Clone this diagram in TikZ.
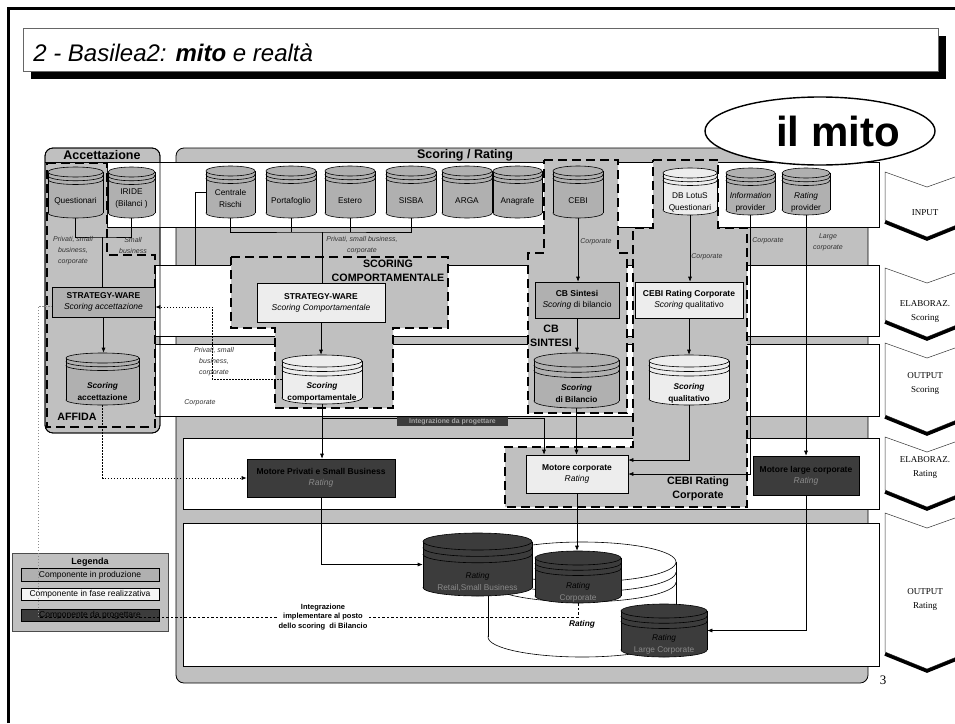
\documentclass[tikz,border=0pt]{standalone}
\usepackage{fontspec}
\setmainfont{Liberation Sans}
\newfontfamily\chevfont{Liberation Serif}
\usetikzlibrary{arrows.meta}
\usetikzlibrary{shapes.geometric}

\definecolor{panelgrey}{HTML}{C0C0C0}
\definecolor{prodgrey}{HTML}{B0B0B0}
\definecolor{newgrey}{HTML}{EDEDED}
\definecolor{todogrey}{HTML}{3C3C3C}
\definecolor{labgrey}{HTML}{333333}
\definecolor{ratgrey}{HTML}{8A8A8A}

% database cylinder: name, cx, top, half width, height, ry, fill, text y, text
\newcommand{\cylgap}{0.75}
\newcommand{\dbcyl}[9]{%
  \pgfmathsetmacro{\cylgapv}{\cylgap*#6}
  \filldraw[fill=#7] (#2,#3+#5-#6) ellipse ({#4} and {#6});
  \fill[#7] (#2-#4,#3+#6) rectangle (#2+#4,#3+#5-#6);
  \draw (#2-#4,#3+#6) -- (#2-#4,#3+#5-#6) (#2+#4,#3+#6) -- (#2+#4,#3+#5-#6);
  \filldraw[fill=#7] (#2,#3+#6) ellipse ({#4} and {#6});
  \foreach \k in {1,2} {
    \begin{scope}
      \clip (#2-#4-1,#3+#6+\k*\cylgapv) rectangle (#2+#4+1,#3+2*#6+\k*\cylgapv+1);
      \draw (#2,#3+#6+\k*\cylgapv) ellipse ({#4} and {#6});
    \end{scope}
  }
  \node[cylbox, minimum width={2*#4pt}, minimum height={#5pt}] (#1) at (#2,#3+#5/2) {};
  \node[cyltext] (#1-t) at (#2,#8) {#9};
}

% phase chevron on the right: name, top, bottom corner, text, text y
\newcommand{\phasechev}[5]{%
  \draw[fill=white, draw=black!80, line width=0.5pt] (885,#2) -- (927,#2+15) -- (969,#2) -- (969,#3) -- (927,#3+17) -- (885,#3) -- cycle;
  \draw[line width=3.5pt] (885,#3+2) -- (927,#3+19) -- (969,#3+2);
  \node[chevtext] (#1) at (925,#5) {#4};
}

\begin{document}
\begin{tikzpicture}[x=1pt,y=-1pt,line width=0.6pt,
    panelbox/.style={draw=black, fill=panelgrey, line width=0.8pt, rounded corners=8pt},
    bandrow/.style={draw=black, fill=white},
    grpzone/.style={draw=black, fill=panelgrey, line width=2pt, dash pattern=on 9pt off 5pt},
    cbox/.style={draw=black, inner sep=0pt, align=center, font=\fontsize{8.5}{11}\selectfont},
    cylbox/.style={inner sep=0pt, draw=none},
    cyltext/.style={inner sep=0pt, align=center, font=\fontsize{8.3}{12}\selectfont},
    labtxt/.style={inner sep=0pt, align=center, text=labgrey, font=\fontsize{7}{11}\selectfont\itshape},
    grouplab/.style={inner sep=0pt, align=center, font=\fontsize{10.7}{14}\selectfont\bfseries},
    lgrow/.style={draw=black, inner sep=0pt, minimum width=138, minimum height=12.5, font=\fontsize{8.5}{10}\selectfont},
    chevtext/.style={inner sep=0pt, align=center, font=\chevfont\fontsize{9}{14}\selectfont},
    arr/.style={-{Latex[length=5pt,width=4pt]}},
    dotarr/.style={-{Latex[length=5pt,width=4pt]}, line width=0.7pt, dash pattern=on 1.5pt off 1.5pt},
    intline/.style={line width=0.7pt, dash pattern=on 2.5pt off 2pt},
    greydot/.style={draw=black!45, line width=1pt, dash pattern=on 1.5pt off 1.5pt}]
  \useasboundingbox (0,0) rectangle (955,723);

  % frame and title
  \draw[line width=2.5pt] (8.5,723) -- (8.5,8.5) -- (955,8.5);
  \fill[black] (31,36) rectangle (946,79);
  \draw[fill=white, draw=black!60] (23,28) rectangle (938,71);
  \node[anchor=base west, inner sep=0pt, font=\fontsize{24}{28}\selectfont\itshape] (title) at (33,61) {2 - Basilea2: \textbf{mito} e realtà};

  % panels and phase bands
  \draw[panelbox] (45,148) rectangle (160,433);
  \draw[panelbox] (176,148) rectangle (868,683);
  \draw[bandrow] (107,162) rectangle (879,227);
  \draw[bandrow] (155,265) rectangle (879,336);
  \draw[bandrow] (155,344) rectangle (879,416);
  \draw[bandrow] (183,438) rectangle (879,509);
  \draw[bandrow] (183,523) rectangle (879,666);
  \draw[line width=0.8pt, rounded corners=8pt] (45,148) rectangle (160,433);
  \draw (45,162) -- (107,162);
  \node[grouplab, font=\fontsize{12.5}{14}\selectfont\bfseries] (acctit) at (102,155) {Accettazione};
  \node[grouplab, font=\fontsize{12.5}{14}\selectfont\bfseries] (scotit) at (465,155) {Scoring / Rating};

  % dashed groups
  \draw[grpzone] (47,163) -- (107,163) -- (107,255) -- (155,255) -- (155,427) -- (47,427) -- cycle;
  \draw[grpzone] (231,257) -- (448,257) -- (448,328) -- (393,328) -- (393,408) -- (275,408) -- (275,328) -- (231,328) -- cycle;
  \draw[grpzone] (544,160) -- (618,160) -- (618,253) -- (627,253) -- (627,413) -- (528,413) -- (528,253) -- (544,253) -- cycle;
  \draw[grpzone] (653,160) -- (718,160) -- (718,228) -- (747,228) -- (747,507) -- (505,507) -- (505,447) -- (633,447) -- (633,228) -- (653,228) -- cycle;

  % input sources
  \dbcyl{quest}{75.5}{167}{27.5}{51}{5}{prodgrey}{201}{Questionari}
  \dbcyl{iride}{131.5}{167}{23.5}{51}{5}{prodgrey}{199}{IRIDE\\(Bilanci )}
  \dbcyl{crischi}{230.5}{166}{24.5}{52}{5}{prodgrey}{199}{Centrale\\Rischi}
  \dbcyl{porta}{291}{166}{25}{52}{5}{prodgrey}{201}{Portafoglio}
  \dbcyl{estero}{350}{166}{25}{52}{5}{prodgrey}{201}{Estero}
  \dbcyl{sisba}{411}{166}{25}{52}{5}{prodgrey}{201}{SISBA}
  \dbcyl{arga}{467}{166}{25}{52}{5}{prodgrey}{201}{ARGA}
  \dbcyl{anagrafe}{517.5}{166}{24.5}{52}{5}{prodgrey}{201}{Anagrafe}
  \dbcyl{cebi}{578}{166}{25}{52}{5}{prodgrey}{201}{CEBI}
  \dbcyl{dblotus}{690}{168}{27}{47}{5}{newgrey}{202}{DB LotuS\\Questionari}
  \dbcyl{info}{750.5}{168}{24.5}{47}{5}{prodgrey}{202}{\itshape Information\\provider}
  \dbcyl{rprov}{806}{168}{24}{47}{5}{prodgrey}{202}{\itshape Rating\\provider}

  % scoring engines
  \node[cbox, fill=prodgrey, minimum width=103, minimum height=30] (swa) at (103.5,302) {\textbf{STRATEGY-WARE}\\\textit{Scoring accettazione}};
  \node[cbox, fill=newgrey, minimum width=128, minimum height=39] (swc) at (321,302.5) {\textbf{STRATEGY-WARE}\\\textit{Scoring Comportamentale}};
  \node[cbox, fill=prodgrey, minimum width=84, minimum height=36] (cbs) at (577,300) {\textbf{CB Sintesi}\\\textit{Scoring} di bilancio};
  \node[cbox, fill=newgrey, minimum width=108, minimum height=36] (cebirc) at (689,300) {\textbf{CEBI Rating Corporate}\\\textit{Scoring} qualitativo};

  % scoring outputs
  \dbcyl{sacc}{102.5}{353}{36.5}{52}{5}{prodgrey}{392}{\textbf{\textit{Scoring}}\\\textbf{accettazione}}
  \dbcyl{scomp}{322}{355}{40}{49}{6}{newgrey}{392.5}{\textbf{\textit{Scoring}}\\\textbf{comportamentale}}
  \dbcyl{sbil}{576.5}{353}{42.5}{55}{7}{prodgrey}{393.5}{\textbf{\textit{Scoring}}\\\textbf{di Bilancio}}
  \dbcyl{squal}{689}{355}{40}{50}{6}{newgrey}{393}{\textbf{\textit{Scoring}}\\\textbf{qualitativo}}

  % rating engines
  \node[cbox, fill=todogrey, minimum width=148, minimum height=38] (mpriv) at (321,478) {\textbf{Motore Privati e Small Business}\\{\color{ratgrey}\textit{Rating}}};
  \node[cbox, fill=newgrey, minimum width=102, minimum height=38] (mcorp) at (577,474) {\textbf{Motore corporate}\\\textit{Rating}};
  \node[cbox, fill=todogrey, minimum width=106, minimum height=39] (mlarge) at (806,475.5) {\textbf{Motore large corporate}\\{\color{ratgrey}\textit{Rating}}};

  % rating outputs
  \begin{scope}
    \renewcommand{\cylgap}{0.5}
    \dbcyl{rall}{582}{542}{94}{115}{20}{white}{624}{\textbf{\textit{Rating}}}
  \end{scope}
  \dbcyl{rretail}{477.5}{533}{54.5}{63}{8.5}{todogrey}{582}{\textit{Rating}\\{\color{ratgrey}Retail,Small Business}}
  \dbcyl{rcorp}{578}{551}{43}{52}{7}{todogrey}{592}{\textit{Rating}\\{\color{ratgrey}Corporate}}
  \dbcyl{rlarge}{664}{604}{43}{53}{7}{todogrey}{644.5}{\textit{Rating}\\{\color{ratgrey}Large Corporate}}

  % legend
  \node[draw=black!70, fill=panelgrey, minimum width=156, minimum height=78, inner sep=0pt] (legend) at (90,592) {};
  \node[inner sep=0pt, font=\fontsize{9}{10}\selectfont\bfseries] (legtit) at (90,562) {Legenda};
  \node[lgrow, fill=prodgrey] (lgprod) at (90,575) {Componente in produzione};
  \node[lgrow, fill=white!96!black] (lgnew) at (90,594.5) {Componente in fase realizzativa};
  \node[lgrow, fill=todogrey, text=black] (lgtodo) at (90,615.5) {Componente da progettare};

  % connectors
  \coordinate (qjoin) at (102,237);
  \draw (quest.south) |- (qjoin) -| (iride.south);
  \draw (qjoin) -- (qjoin |- swa.north);
  \coordinate (cbus) at (322,232);
  \draw (crischi.south) |- (cbus) -| (sisba.south);
  \draw (porta.south) -- (porta.south |- cbus);
  \draw (estero.south) -- (estero.south |- cbus);
  \draw (cbus) -- (cbus |- swc.north);
  \coordinate (crbend) at (195,265);
  \coordinate (crin) at (155,265);
  \draw (crischi.west) -| (crbend) -- (crin);

  \draw[arr] (swa.south) -- (swa.south |- sacc.north);
  \draw[dotarr] (sacc.south) |- (mpriv.west);
  \draw[dotarr] (scomp.west) -- ++(-69,0) |- ([yshift=-5pt]swa.east);
  \draw[arr] (swc.south) -- (swc.south |- scomp.north);
  \draw[arr] (scomp.south) -- (scomp.south |- mpriv.north);
  \draw[arr] (mpriv.south) |- (rretail.west);
  \coordinate (intstart) at (322,418);
  \draw[arr] (intstart) -| ([xshift=-33pt]mcorp.north);
  \node[fill=todogrey, text=black!35, inner sep=0pt, minimum width=111, minimum height=9, font=\fontsize{6.9}{8}\selectfont\bfseries] (intdes) at (452.5,421.5) {Integrazione da progettare};

  \draw[arr] (cebi.south) -- (cebi.south |- cbs.north);
  \draw[arr] (cbs.south) -- (cbs.south |- sbil.north);
  \draw[arr] (sbil.south) -- (sbil.south |- mcorp.north);
  \draw[arr] (dblotus.south) -- (dblotus.south |- cebirc.north);
  \draw[arr] (cebirc.south) -- (cebirc.south |- squal.north);
  \draw[arr] (squal.south) |- ([yshift=14pt]mcorp.east);
  \draw[arr] (info.south) |- (mcorp.east);
  \draw[arr] (rprov.south) -- (rprov.south |- mlarge.north);
  \draw[arr] (mlarge.south) |- (rlarge.east);
  \draw[arr] (mcorp.south) -- (mcorp.south |- rcorp.north);

  \draw[intline] (rcorp.south) |- ([yshift=-1.5pt]lgtodo.east) -- ++(-121,0) coordinate (intcorner);
  \draw[greydot] (intcorner) |- ([yshift=-4pt]swa.west);
  \node[fill=white, inner sep=1pt, align=center, font=\fontsize{7.5}{9.5}\selectfont\bfseries] (intnote) at (323,617) {Integrazione\\implementare al posto\\dello scoring\ \ di Bilancio};

  % flow labels
  \node[labtxt] (lpriv1) at (73,251) {Privati, small\\business,\\corporate};
  \node[labtxt] (lsmall) at (133,245.5) {Small\\business};
  \node[labtxt] (lpriv2) at (362,245) {Privati, small business,\\corporate};
  \node[labtxt, anchor=west] (lcorp1) at (580,242) {Corporate};
  \node[labtxt, anchor=west] (lcorp2) at (691,257) {Corporate};
  \node[labtxt, anchor=west] (lcorp3) at (752,241) {Corporate};
  \node[labtxt] (llarge) at (828,242) {Large\\corporate};
  \node[labtxt] (lpriv3) at (214,361.5) {Privati, small\\business,\\corporate};
  \node[labtxt] (lcorp4) at (200,403) {Corporate};

  % group labels
  \node[grouplab] (lscomp) at (388,271) {SCORING\\COMPORTAMENTALE};
  \node[grouplab] (lcbs) at (551,336) {CB\\SINTESI};
  \node[grouplab] (lcebi) at (698,488.5) {CEBI Rating\\Corporate};
  \node[grouplab, anchor=west] (laffida) at (57,417) {AFFIDA};

  % the myth
  \node[draw=black, line width=1.4pt, fill=white, ellipse, minimum width=230, minimum height=68, inner sep=0pt] (mito) at (820,131) {};
  \node[inner sep=0pt, font=\fontsize{42}{42}\selectfont\bfseries] (mitotext) at (838,131) {il mito};

  % phases
  \phasechev{chinput}{172}{220}{INPUT}{213}
  \phasechev{chelabs}{268}{320}{ELABORAZ.\\Scoring}{311}
  \phasechev{choutsc}{343}{415}{OUTPUT\\Scoring}{383}
  \phasechev{chelabr}{437}{490}{ELABORAZ.\\Rating}{467}
  \phasechev{choutr}{513}{652}{OUTPUT\\Rating}{599.5}

  \node[inner sep=0pt, font=\chevfont\fontsize{13}{13}\selectfont] (pageno) at (883,680) {3};
\end{tikzpicture}
\end{document}
